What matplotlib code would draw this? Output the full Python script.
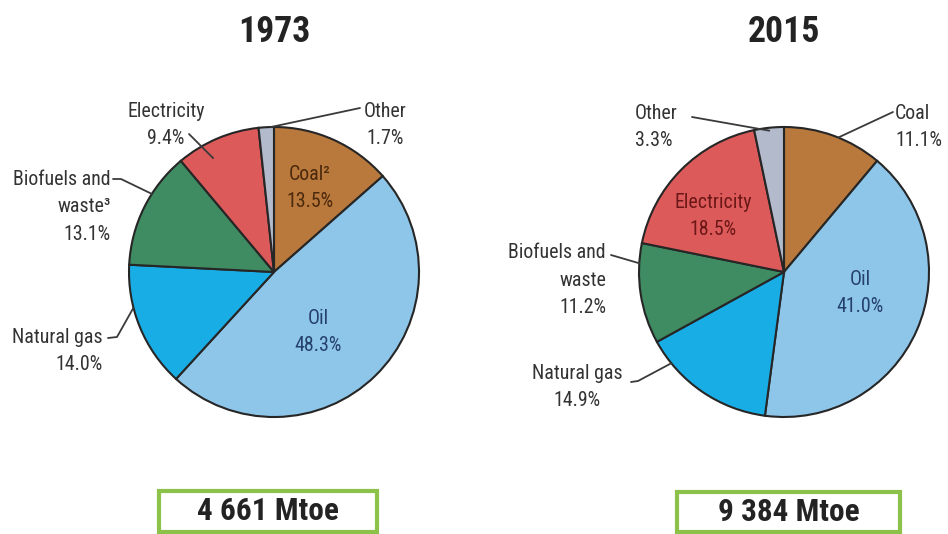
import math
import matplotlib.pyplot as plt
from matplotlib import font_manager as fm
from matplotlib.patches import Rectangle

# Shares of total final consumption by source
years = ["1973", "2015"]
totals = ["4 661 Mtoe", "9 384 Mtoe"]
labels_1973 = ["Coal²", "Oil", "Natural gas", "Biofuels and\nwaste³", "Electricity", "Other"]
labels_2015 = ["Coal", "Oil", "Natural gas", "Biofuels and\nwaste", "Electricity", "Other"]
share_1973 = [13.5, 48.3, 14.0, 13.1, 9.4, 1.7]
share_2015 = [11.1, 41.0, 14.9, 11.2, 18.5, 3.3]
colors = ["#b9783c", "#8ec6ea", "#19ade6", "#3f8b62", "#dd5a5a", "#b2bacb"]

W, H = 948, 534
TEXT = "#333333"
LINE = "#3a3a3a"
RADIUS = 145


def Y(py):
    return H - py


def narrow_font():
    """Pick the narrowest installed sans family available."""
    entries = fm.fontManager.ttflist
    names = {f.name for f in entries}
    for n in ("Liberation Sans Narrow", "Arial Narrow", "Roboto Condensed",
              "Noto Sans Condensed", "Open Sans Condensed", "DejaVu Sans Condensed"):
        if n in names:
            return dict(family=[n, "DejaVu Sans"])
    for f in entries:
        if f.name in ("Noto Sans", "Roboto", "Open Sans") and str(f.stretch) in (
                "condensed", "semi-condensed", "extra-condensed"):
            return dict(family=[f.name, "DejaVu Sans"], fontstretch=f.stretch)
    return dict(family=["Liberation Sans", "DejaVu Sans"])


FONT = narrow_font()

fig = plt.figure(figsize=(W / 100, H / 100), dpi=100)
ax = fig.add_axes([0, 0, 1, 1])
renderer = fig.canvas.get_renderer()


def fit_size(sample, target_px, max_size, **kw):
    t = ax.text(0, 0, sample, fontsize=10, **FONT, **kw)
    w = t.get_window_extent(renderer).width
    t.remove()
    return min(max_size, 10 * target_px / w)


LABEL_SIZE = fit_size("Natural gas", 90, 15)
TITLE_SIZE = fit_size("1973", 73, 29, fontweight="bold")
BOX_SIZE = fit_size("4 661 Mtoe", 142, 23, fontweight="bold")
LINESP = 28.5 / (LABEL_SIZE * 100 / 72 * 0.93)

# Per-slice label placement: inside labels carry a colour, outside labels a leader line
layout_1973 = {
    "Coal": dict(kind="in", xy=(310, 188), color="#4a290c"),
    "Oil": dict(kind="in", xy=(318, 332), color="#25406b"),
    "Natural gas": dict(kind="out", xy=(103, 351), ha="right",
                        path=[(108, 338), (117, 337)], frac=0.66, r=1.0),
    "Biofuels": dict(kind="out", xy=(111, 207), ha="right",
                     path=[(113, 179), (121, 179)], frac=0.63, r=1.0),
    "Electricity": dict(kind="out", xy=(166, 125), ha="center",
                        path=[(189, 134)], frac=0.35, r=0.89),
    "Other": dict(kind="out", xy=(385, 125), ha="center",
                  path=[(360, 108)], frac=0.8, r=1.0),
}
layout_2015 = {
    "Coal": dict(kind="out", xy=(895, 127), ha="left",
                 path=[(893, 112)], frac=0.55, r=1.0),
    "Oil": dict(kind="in", xy=(860, 293), color="#25406b"),
    "Natural gas": dict(kind="out", xy=(577, 387), ha="center",
                        path=[(631, 382), (638, 381)], frac=0.81, r=1.0),
    "Biofuels": dict(kind="out", xy=(606, 280), ha="right",
                     path=[(611, 255)], frac=0.8, r=1.0),
    "Electricity": dict(kind="in", xy=(713, 216), color="#6c1717"),
    "Other": dict(kind="out", xy=(635, 127), ha="left",
                  path=[(692, 117)], frac=0.5, r=0.98),
}
keys = ["Coal", "Oil", "Natural gas", "Biofuels", "Electricity", "Other"]

charts = [
    dict(year=years[0], total=totals[0], labels=labels_1973, values=share_1973,
         center=(274, 272), layout=layout_1973, box=(159, 491, 218, 41)),
    dict(year=years[1], total=totals[1], labels=labels_2015, values=share_2015,
         center=(784, 272), layout=layout_2015, box=(677, 492, 223, 40)),
]

for ch in charts:
    cx, cy = ch["center"][0], Y(ch["center"][1])
    wedges, _ = ax.pie(ch["values"], colors=colors, startangle=90,
                       counterclock=False, center=(cx, cy), radius=RADIUS,
                       wedgeprops=dict(edgecolor="#262626", linewidth=1.5))
    for w, key, name, val in zip(wedges, keys, ch["labels"], ch["values"]):
        spec = ch["layout"][key]
        text = f"{name}\n{val:.1f}%"
        tx, ty = spec["xy"]
        if spec["kind"] == "in":
            ax.text(tx, Y(ty), text, ha="center", va="center", fontsize=LABEL_SIZE,
                    color=spec["color"], linespacing=LINESP, **FONT)
            continue
        ax.text(tx, Y(ty), text, ha=spec["ha"], va="center", fontsize=LABEL_SIZE,
                color=TEXT, linespacing=LINESP, multialignment=spec["ha"], **FONT)
        # leader line ends on the wedge, measured clockwise from its start
        a = math.radians(w.theta2 - spec["frac"] * (w.theta2 - w.theta1))
        ex = cx + spec["r"] * RADIUS * math.cos(a)
        ey = cy + spec["r"] * RADIUS * math.sin(a)
        xs = [p[0] for p in spec["path"]] + [ex]
        ys = [Y(p[1]) for p in spec["path"]] + [ey]
        ax.plot(xs, ys, color=LINE, linewidth=1.3, solid_capstyle="round")

    ax.text(ch["center"][0], Y(32), ch["year"], ha="center", va="center",
            fontsize=TITLE_SIZE, fontweight="bold", color="#232323", **FONT)

    bx, by, bw, bh = ch["box"]
    ax.add_patch(Rectangle((bx, Y(by + bh)), bw, bh, facecolor="white",
                           edgecolor="#8cc24a", linewidth=3))
    ax.text(bx + bw / 2, Y(by + bh / 2), ch["total"], ha="center", va="center",
            fontsize=BOX_SIZE, fontweight="bold", color="#232323", **FONT)

ax.set_xlim(0, W)
ax.set_ylim(0, H)
ax.set_aspect("auto")
ax.axis("off")
fig.savefig("out.png", dpi=100, facecolor="white")
